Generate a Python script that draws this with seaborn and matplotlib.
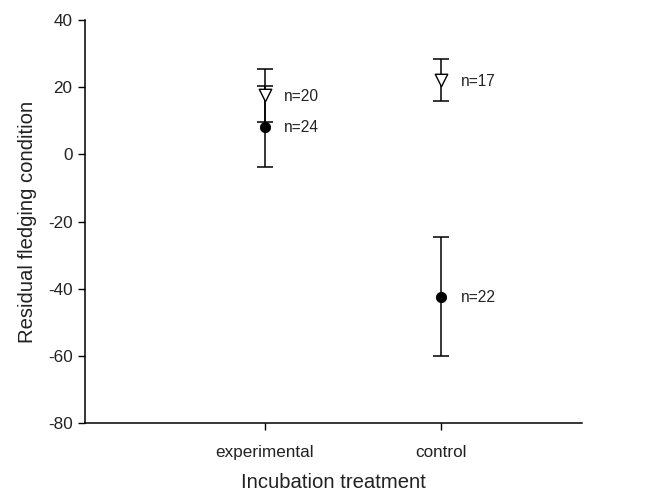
import matplotlib
matplotlib.use("Agg")
import matplotlib.pyplot as plt
import seaborn as sns
import pandas as pd
import numpy as np

categories = ["experimental", "control"]
closed_mean = [8.3, -42.4]
closed_err = [12.1, 17.7]
closed_n = ["n=24", "n=22"]
open_mean = [17.6, 22.2]
open_err = [8.0, 6.3]
open_n = ["n=20", "n=17"]

sns.set_style("ticks")
plt.rcParams['font.family'] = ['Liberation Sans', 'DejaVu Sans']
plt.rcParams['axes.unicode_minus'] = False

fig = plt.figure(figsize=(6.49, 4.93), dpi=100)
ax = fig.add_axes([0.131, 0.142, 0.766, 0.817])

x = np.arange(len(categories))
df_c = pd.DataFrame({"x": x, "y": closed_mean})
df_o = pd.DataFrame({"x": x, "y": open_mean})

ax.errorbar(x, open_mean, yerr=open_err, fmt="none", ecolor="black", elinewidth=1.1, capsize=6, capthick=1.1, zorder=2)
ax.errorbar(x, closed_mean, yerr=closed_err, fmt="none", ecolor="black", elinewidth=1.1, capsize=6, capthick=1.1, zorder=2)
sns.scatterplot(data=df_o, x="x", y="y", marker="v", s=80, facecolor="white", edgecolor="black", linewidth=1.0, ax=ax, zorder=3)
sns.scatterplot(data=df_c, x="x", y="y", marker="o", s=55, color="black", edgecolor="black", ax=ax, zorder=4)

for xi, m, lab in zip(x, open_mean, open_n):
    ax.text(xi + 0.11, m - 0.4, lab, fontsize=11.2, va="center", ha="left", color="#222222")
for xi, m, lab in zip(x, closed_mean, closed_n):
    ax.text(xi + 0.11, m - 0.3, lab, fontsize=11.2, va="center", ha="left", color="#222222")

ax.set_xlim(-1.02, 1.8)
ax.set_ylim(-80, 40)
ax.set_yticks([-80, -60, -40, -20, 0, 20, 40])
ax.set_xticks(x)
ax.set_xticklabels(categories)
ax.tick_params(axis="both", labelsize=12.3, length=5, width=1, colors="black", labelcolor="#222222", pad=4)
ax.tick_params(axis="x", pad=10.5)
ax.set_xlabel("Incubation treatment", fontsize=14.6, labelpad=10, color="#222222")
ax.set_ylabel("Residual fledging condition", fontsize=14.6, labelpad=8, color="#222222")
for s in ["top", "right"]:
    ax.spines[s].set_visible(False)
for s in ["left", "bottom"]:
    ax.spines[s].set_linewidth(1.1)
    ax.spines[s].set_color("black")

fig.savefig("out.png", dpi=100)
